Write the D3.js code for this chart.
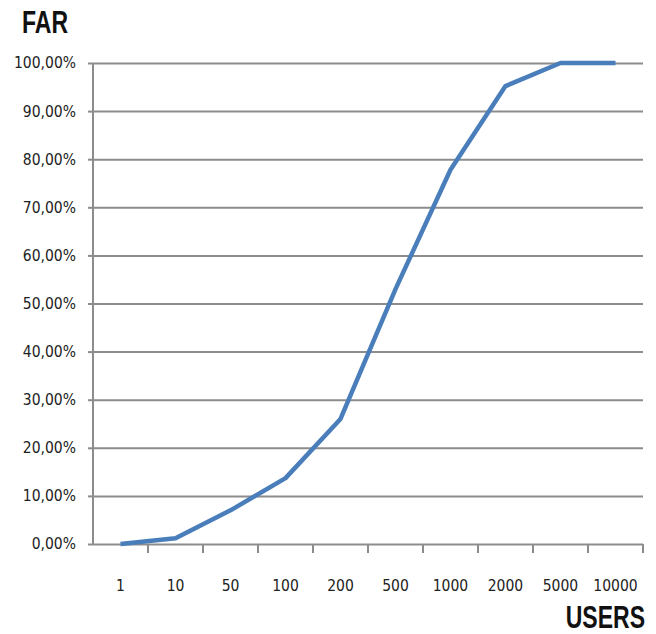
<!DOCTYPE html>
<html>
<head>
<meta charset="utf-8">
<script src="https://cdn.jsdelivr.net/npm/d3@7"></script>
<style>
  body { margin: 0; background: #fff; }
  svg text { font-family: "DejaVu Sans Condensed", "DejaVu Sans", sans-serif; }
  svg text.title { font-family: "Liberation Sans", sans-serif; }
</style>
</head>
<body>
<div id="chart"></div>
<script>
// users on the x axis, FAR (%) on the y axis
const users = ["1", "10", "50", "100", "200", "500", "1000", "2000", "5000", "10000"];
const far = [0, 1.2, 7, 13.7, 26, 53, 77.8, 95.2, 100, 100];
const yTicks = [0, 10, 20, 30, 40, 50, 60, 70, 80, 90, 100];

const width = 656, height = 634;
const marginTop = 63, marginRight = 13, marginBottom = 90, marginLeft = 93;

const svg = d3.select("#chart").append("svg")
  .attr("width", width)
  .attr("height", height);

const x = d3.scaleBand()
  .domain(users)
  .range([marginLeft, width - marginRight]);

const y = d3.scaleLinear()
  .domain([0, 100])
  .range([height - marginBottom, marginTop]);

const fmt = v => v.toFixed(2).replace(".", ",") + "%";

// horizontal grid + y labels
svg.append("g")
  .attr("transform", `translate(${marginLeft},0)`)
  .call(d3.axisLeft(y).tickValues(yTicks).tickFormat(fmt).tickSize(5).tickPadding(12))
  .call(g => g.selectAll(".tick line").clone()
    .attr("x2", width - marginRight - marginLeft))
  .call(g => g.selectAll("line, .domain").attr("stroke", "#8c8c8c").attr("stroke-width", 2))
  .call(g => g.select(".domain").attr("d", `M0,${y(0)}V${y(100)}`))
  .call(g => g.selectAll("text").attr("font-size", 15.5).attr("fill", "#222"));

// x axis with ticks at band edges
const edges = users.map(u => x(u)).concat([x.range()[1]]);
const xAxis = svg.append("g").attr("transform", `translate(0,${y(0)})`);
xAxis.selectAll("line.edge")
  .data(edges.slice(1))
  .join("line")
  .attr("x1", d => d).attr("x2", d => d)
  .attr("y1", 0).attr("y2", 9)
  .attr("stroke", "#8c8c8c").attr("stroke-width", 2);
xAxis.selectAll("text")
  .data(users)
  .join("text")
  .attr("x", d => x(d) + x.bandwidth() / 2)
  .attr("y", 47)
  .attr("text-anchor", "middle")
  .attr("font-size", 15.5)
  .attr("fill", "#222")
  .text(d => d);

// line
const line = d3.line()
  .x((d, i) => x(users[i]) + x.bandwidth() / 2)
  .y(d => y(d));

svg.append("path")
  .datum(far)
  .attr("fill", "none")
  .attr("stroke", "#4a7ebb")
  .attr("stroke-width", 4.5)
  .attr("stroke-linejoin", "round")
  .attr("d", line);

// axis titles (narrow bold look)
svg.append("text")
  .attr("class", "title")
  .attr("transform", "translate(22,33) scale(0.72,1)")
  .attr("font-size", 32).attr("font-weight", "bold")
  .attr("fill", "#111")
  .text("FAR");

svg.append("text")
  .attr("class", "title")
  .attr("transform", "translate(645,628) scale(0.72,1)")
  .attr("text-anchor", "end")
  .attr("font-size", 32).attr("font-weight", "bold")
  .attr("fill", "#111")
  .text("USERS");
</script>
</body>
</html>
